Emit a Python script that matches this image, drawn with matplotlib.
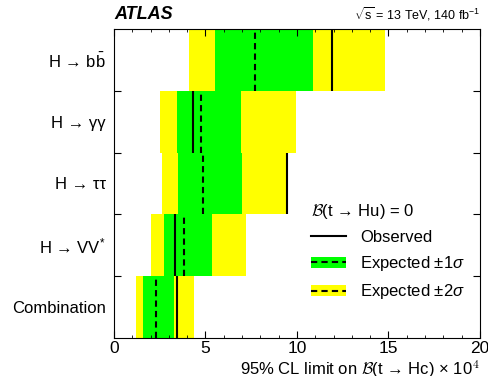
import matplotlib
matplotlib.use('Agg')
import matplotlib.pyplot as plt
from matplotlib.patches import Patch
from matplotlib.lines import Line2D
from matplotlib.ticker import MultipleLocator

plt.rcParams['font.family'] = ['Liberation Sans', 'DejaVu Sans']
plt.rcParams['mathtext.fontset'] = 'custom'
plt.rcParams['mathtext.rm'] = 'Liberation Sans'
plt.rcParams['mathtext.it'] = 'Liberation Sans:italic'
plt.rcParams['mathtext.bf'] = 'Liberation Sans:bold'

# channels, top to bottom
channels = ['H → b$\\bar{\\mathrm{b}}$', 'H → γγ', 'H → ττ', 'H → VV$^{*}$', 'Combination']
# limits on B(t->Hc) x 10^4
lo2 = [4.11, 2.51, 2.60, 2.02, 1.18]
lo1 = [5.52, 3.42, 3.48, 2.73, 1.60]
hi1 = [10.86, 6.92, 6.98, 5.37, 3.28]
hi2 = [14.80, 9.94, 9.42, 7.21, 4.37]
expected = [7.71, 4.75, 4.88, 3.84, 2.30]
observed = [11.93, 4.30, 9.47, 3.32, 3.43]

yellow = '#ffff00'
green = '#00ff00'
dash = (0, (3, 2))

fig = plt.figure(figsize=(4.88, 3.76), dpi=100)
ax = fig.add_axes([0.2336, 0.101, 0.75, 0.822])

n = len(channels)
ypos = [n - 1 - i for i in range(n)]

for i in range(n):
    y = ypos[i]
    ax.barh(y, hi2[i] - lo2[i], left=lo2[i], height=1.0, color=yellow, linewidth=0)
    ax.barh(y, hi1[i] - lo1[i], left=lo1[i], height=1.0, color=green, linewidth=0)
    ax.vlines(expected[i], y - 0.5, y + 0.5, colors='black', linestyles=dash, linewidth=1.5)
    ax.vlines(observed[i], y - 0.5, y + 0.5, colors='black', linestyles='solid', linewidth=1.5)

ax.set_xlim(0, 20)
ax.set_ylim(-0.5, n - 0.5)
ax.xaxis.set_major_locator(MultipleLocator(5))
ax.xaxis.set_minor_locator(MultipleLocator(1))
ax.tick_params(axis='x', which='both', direction='in', top=True, labelsize=12.5, pad=2.5)
ax.tick_params(axis='x', which='major', length=5)
ax.tick_params(axis='x', which='minor', length=2.5)

ax.set_yticks([i + 0.5 for i in range(n - 1)])
ax.set_yticklabels([])
ax.set_yticks(ypos, channels, minor=True)
ax.tick_params(axis='y', which='major', direction='in', right=True, length=5)
ax.tick_params(axis='y', which='minor', length=0, labelsize=12, pad=6)

ax.set_xlabel('95% CL limit on $\\mathcal{B}$(t → Hc) × 10$^{\\mathsf{4}}$', loc='right', fontsize=12,
              math_fontfamily='cm', labelpad=1)

ax.text(0, 1.02, 'ATLAS', transform=ax.transAxes, fontsize=13, fontweight='bold', fontstyle='italic',
        ha='left', va='bottom')
ax.text(1, 1.02, '$\\sqrt{\\mathrm{s}}$ = 13 TeV, 140 fb$^{-1}$', transform=ax.transAxes, fontsize=9,
        ha='right', va='bottom')

handles = [Line2D([], [], color='black', linewidth=1.5),
           (Patch(facecolor=green), Line2D([], [], color='black', linestyle=dash, linewidth=1.5)),
           (Patch(facecolor=yellow), Line2D([], [], color='black', linestyle=dash, linewidth=1.5))]
labels = ['Observed', 'Expected ±1$\\sigma$', 'Expected ±2$\\sigma$']
leg = ax.legend(handles, labels, loc='lower right', bbox_to_anchor=(1.0, 0.07), frameon=False,
                fontsize=12, handlelength=2.1, handletextpad=0.85, labelspacing=0.55,
                title='$\\mathcal{B}$(t → Hu) = 0', title_fontsize=12, alignment='left')
leg.get_title().set_math_fontfamily('cm')

fig.savefig('out.png', dpi=100)
